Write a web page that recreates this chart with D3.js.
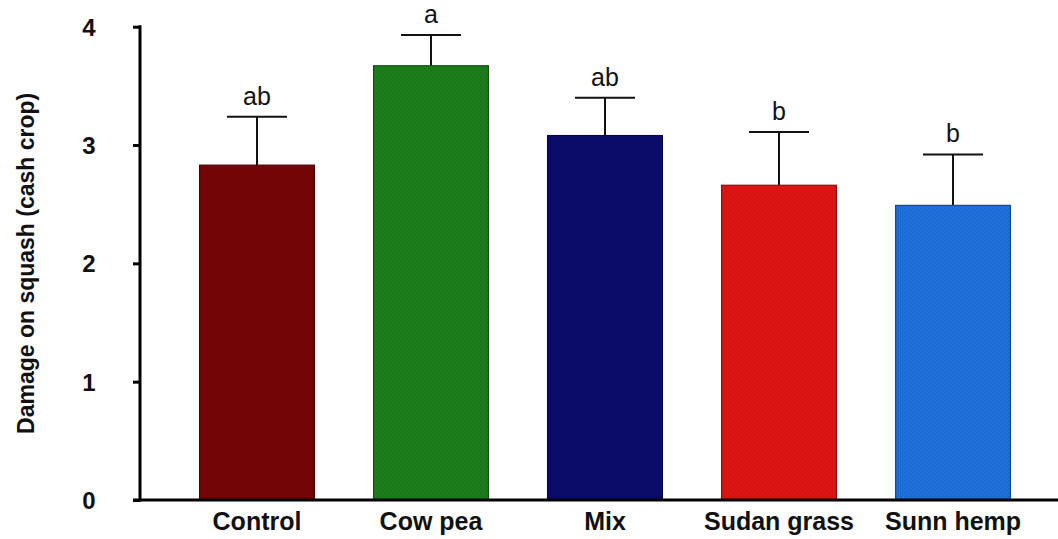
<!DOCTYPE html>
<html>
<head>
<meta charset="utf-8">
<script src="https://cdn.jsdelivr.net/npm/d3@7"></script>
<style>
  html, body { margin: 0; padding: 0; background: #fff; }
  svg { display: block; }
</style>
</head>
<body>
<svg id="chart" width="1058" height="539"></svg>
<script>
// Damage scores on squash by cover-crop treatment
const categories = ["Control", "Cow pea", "Mix", "Sudan grass", "Sunn hemp"];
const means      = [2.83, 3.67, 3.08, 2.66, 2.49];
const upperError = [3.24, 3.93, 3.40, 3.11, 2.92];
const groupLetters = ["ab", "a", "ab", "b", "b"];
const barColors  = ["#760505", "#1b7d1b", "#0b0b6c", "#e11414", "#1f70dd"];
const yTicks     = [0, 1, 2, 3, 4];

const svg = d3.select("#chart");
const font = "Liberation Sans, Arial, sans-serif";

const x = d3.scaleBand()
  .domain(categories)
  .range([170, 1040])
  .paddingInner(0.34)
  .paddingOuter(0.17);

const y = d3.scaleLinear().domain([0, 4]).range([500, 26.7]);

// fine dotted texture for each bar fill
const defs = svg.append("defs");
barColors.forEach((c, i) => {
  const p = defs.append("pattern")
    .attr("id", "tex" + i)
    .attr("width", 4).attr("height", 4)
    .attr("patternUnits", "userSpaceOnUse");
  p.append("rect").attr("width", 4).attr("height", 4).attr("fill", c);
  p.append("rect").attr("x", 0).attr("y", 0).attr("width", 1).attr("height", 1)
    .attr("fill", d3.color(c).darker(0.6));
  p.append("rect").attr("x", 2).attr("y", 2).attr("width", 1).attr("height", 1)
    .attr("fill", d3.color(c).darker(0.6));
});

const rows = categories.map((c, i) => ({
  cat: c, mean: means[i], top: upperError[i], letter: groupLetters[i], i
}));

// error bars (upper only)
const eb = svg.append("g").attr("stroke", "#111").attr("stroke-width", 2);
rows.forEach(d => {
  const cx = x(d.cat) + x.bandwidth() / 2;
  eb.append("line").attr("x1", cx).attr("x2", cx)
    .attr("y1", y(d.mean)).attr("y2", y(d.top));
  eb.append("line").attr("x1", cx - 30).attr("x2", cx + 30)
    .attr("y1", y(d.top)).attr("y2", y(d.top));
});

// bars
svg.append("g").selectAll("rect").data(rows).join("rect")
  .attr("x", d => x(d.cat))
  .attr("y", d => y(d.mean))
  .attr("width", x.bandwidth())
  .attr("height", d => y(0) - y(d.mean))
  .attr("fill", d => `url(#tex${d.i})`)
  .attr("stroke", d => d3.color(barColors[d.i]).darker(1.2))
  .attr("stroke-width", 1.2);

// significance letters
svg.append("g").selectAll("text").data(rows).join("text")
  .attr("x", d => x(d.cat) + x.bandwidth() / 2)
  .attr("y", d => y(d.top) - 12)
  .attr("text-anchor", "middle")
  .attr("font-family", font)
  .attr("font-size", 25)
  .attr("fill", "#111")
  .text(d => d.letter);

// y axis
const yAxis = svg.append("g")
  .attr("transform", "translate(140,0)")
  .call(d3.axisLeft(y).tickValues(yTicks).tickFormat(d3.format("d")).tickSize(7).tickPadding(44));
yAxis.select(".domain").remove();
yAxis.append("line").attr("x1", 0).attr("x2", 0)
  .attr("y1", y(4) - 1.5).attr("y2", y(0) + 1.5)
  .attr("stroke", "#000").attr("stroke-width", 3);
yAxis.selectAll(".tick line").attr("stroke", "#000").attr("stroke-width", 3);
yAxis.selectAll(".tick text")
  .attr("font-family", font).attr("font-size", 24).attr("font-weight", "bold")
  .attr("fill", "#111").attr("text-anchor", "middle").attr("dy", "0.36em");

// x axis
const xAxis = svg.append("g")
  .attr("transform", `translate(0,${y(0)})`)
  .call(d3.axisBottom(x).tickSize(0).tickPadding(12));
xAxis.select(".domain").remove();
xAxis.append("line").attr("x1", 133).attr("x2", 1058)
  .attr("stroke", "#000").attr("stroke-width", 3);
xAxis.selectAll(".tick text")
  .attr("font-family", font).attr("font-size", 25).attr("font-weight", "bold")
  .attr("fill", "#111");

// y axis title
svg.append("text")
  .attr("transform", `translate(34,${(y(0) + y(4)) / 2}) rotate(-90)`)
  .attr("text-anchor", "middle")
  .attr("font-family", font)
  .attr("font-size", 23)
  .attr("font-weight", "bold")
  .attr("fill", "#111")
  .text("Damage on squash (cash crop)");
</script>
</body>
</html>
